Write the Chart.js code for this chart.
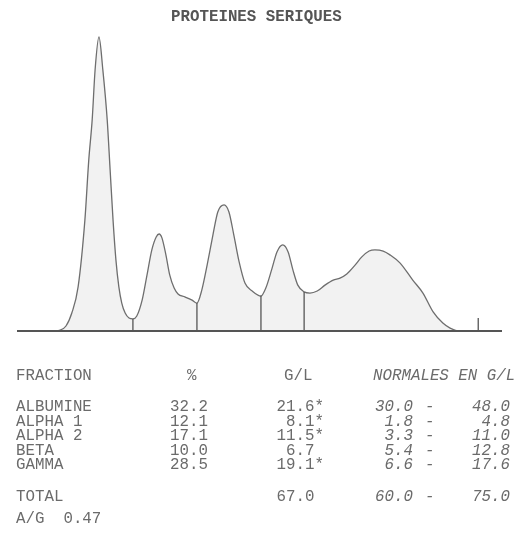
<!DOCTYPE html>
<html>
<head>
<meta charset="utf-8">
<script src="https://cdn.jsdelivr.net/npm/chart.js@4/dist/chart.umd.min.js"></script>
<style>
    html, body { margin: 0; padding: 0; background: #fff; }
    #wrap { position: relative; width: 517px; height: 541px; overflow: hidden; }
    #wrap canvas { position: absolute; left: 0; top: 0; }
    .t {
        position: absolute;
        font-family: 'Liberation Mono', 'DejaVu Sans Mono', monospace;
        font-size: 15.8px;
        line-height: 16px;
        color: #6b6b6b;
        white-space: pre;
    }
    .it { font-style: italic; }
    .title { color: #555; font-weight: bold; }
</style>
</head>
<body>
<div id="wrap">
    <canvas id="spe" width="517" height="541"></canvas>
</div>
<script>
// densitometry trace (migration 0-100, relative density 0-100)
const migration = [0, 6.8, 8.9, 10.1, 11.3, 12.6, 14.0, 14.8, 15.5, 16.1, 16.9, 17.7, 18.6, 19.2, 19.8, 20.4, 21.0, 21.6, 22.3, 23.1,
    23.9, 24.7, 25.8, 26.8, 27.8, 28.7, 29.3, 29.9, 30.7, 31.5, 32.4, 33.2, 34.6, 36.1,
    37.1, 38.1, 39.2, 40.4, 41.4, 42.7, 43.7, 44.7, 45.8, 47.0, 48.5,
    50.3, 51.3, 52.6, 53.6, 54.8, 55.9, 56.9, 57.9,
    59.2, 60.4, 61.9, 63.5, 65.2, 66.6, 68.0, 69.7, 71.1, 72.6, 73.8, 75.5, 76.9, 79.0, 81.6, 83.7, 85.8, 87.8, 89.3, 91.3, 100];
const density = [0, 0, 0.3, 1.7, 6.1, 15.0, 37.8, 58.2, 71.8, 88.8, 100, 88.8, 71.8, 54.8, 37.8, 24.1, 15.0, 9.5, 6.1, 4.4,
    4.1, 5.1, 10.5, 19.0, 27.6, 32.0, 33.0, 31.6, 25.9, 19.0, 14.6, 12.6, 11.6, 10.5,
    9.5, 13.9, 22.4, 32.7, 40.5, 42.9, 40.5, 32.7, 23.5, 16.3, 13.6,
    11.9, 14.6, 21.4, 26.9, 29.3, 26.9, 20.7, 15.6,
    13.3, 12.9, 13.6, 15.6, 17.3, 18.0, 19.4, 22.4, 25.2, 27.2, 27.6, 27.2, 25.9, 23.1, 17.3, 12.9, 6.5, 2.7, 1.0, 0, 0];

// fraction cut points and the end-of-scan marker
const cutX = [23.9, 37.1, 50.3, 59.2];
const cutY = [4.1, 9.5, 11.9, 13.3];
const endMarkX = 95.1;
const endMarkY = 4.4;

// results table
const fractions = ['ALBUMINE', 'ALPHA 1', 'ALPHA 2', 'BETA', 'GAMMA'];
const percents = ['32.2', '12.1', '17.1', '10.0', '28.5'];
const gramsPerL = ['21.6*', '8.1*', '11.5*', '6.7', '19.1*'];
const normalLow = ['30.0', '1.8', '3.3', '5.4', '6.6'];
const normalHigh = ['48.0', '4.8', '11.0', '12.8', '17.6'];
const totalGL = '67.0';
const totalLow = '60.0';
const totalHigh = '75.0';
const ratioAG = '0.47';

const LINE = '#6e6e6e';

const wrap = document.getElementById('wrap');
function addText(str, opts) {
    const el = document.createElement('div');
    el.className = 't' + (opts.cls ? ' ' + opts.cls : '');
    el.textContent = str;
    el.style.top = (opts.y - 8) + 'px';
    if (opts.right !== undefined) el.style.right = (517 - opts.right) + 'px';
    else el.style.left = opts.x + 'px';
    wrap.appendChild(el);
}

addText('PROTEINES SERIQUES', { x: 171, y: 17, cls: 'title' });

// header
addText('FRACTION', { x: 16, y: 376 });
addText('%', { x: 187, y: 376 });
addText('G/L', { x: 284, y: 376 });
addText('NORMALES EN G/L', { x: 373, y: 376, cls: 'it' });

const rowY = [407, 422, 436, 451, 465];
fractions.forEach((f, i) => {
    const y = rowY[i];
    addText(f, { x: 16, y });
    addText(percents[i], { right: 208, y });
    const gl = gramsPerL[i];
    addText(gl.endsWith('*') ? gl : gl + ' ', { right: 324, y });
    addText(normalLow[i], { right: 413, y, cls: 'it' });
    addText('-', { x: 425, y, cls: 'it' });
    addText(normalHigh[i], { right: 510, y, cls: 'it' });
});

addText('TOTAL', { x: 16, y: 497 });
addText(totalGL + ' ', { right: 324, y: 497 });
addText(totalLow, { right: 413, y: 497, cls: 'it' });
addText('-', { x: 425, y: 497, cls: 'it' });
addText(totalHigh, { right: 510, y: 497, cls: 'it' });

addText('A/G  ' + ratioAG, { x: 16, y: 519 });

const trace = migration.map((x, i) => ({ x, y: density[i] }));

const cutSets = cutX.map((x, i) => ({
    data: [{ x, y: 0 }, { x, y: cutY[i] }],
    borderColor: '#555',
    borderWidth: 1.3,
    pointRadius: 0,
    fill: false,
    order: 0
}));

new Chart(document.getElementById('spe'), {
    type: 'line',
    data: {
        datasets: [
            {
                data: trace,
                borderColor: LINE,
                borderWidth: 1.3,
                backgroundColor: '#f2f2f2',
                fill: 'origin',
                pointRadius: 0,
                cubicInterpolationMode: 'monotone',
                order: 2
            },
            ...cutSets,
            {
                data: [{ x: endMarkX, y: 0 }, { x: endMarkX, y: endMarkY }],
                borderColor: '#555',
                borderWidth: 1.3,
                pointRadius: 0,
                fill: false,
                order: 0
            },
            {
                data: [{ x: 0, y: 0 }, { x: 100, y: 0 }],
                borderColor: '#555',
                borderWidth: 2,
                pointRadius: 0,
                fill: false,
                order: 0
            }
        ]
    },
    options: {
        responsive: false,
        animation: false,
        devicePixelRatio: 1,
        clip: false,
        layout: { padding: { left: 17, right: 15, top: 37, bottom: 210 } },
        plugins: {
            legend: { display: false },
            tooltip: { enabled: false }
        },
        scales: {
            x: { type: 'linear', min: 0, max: 100, display: false },
            y: { min: 0, max: 100, display: false }
        }
    }
});
</script>
</body>
</html>
